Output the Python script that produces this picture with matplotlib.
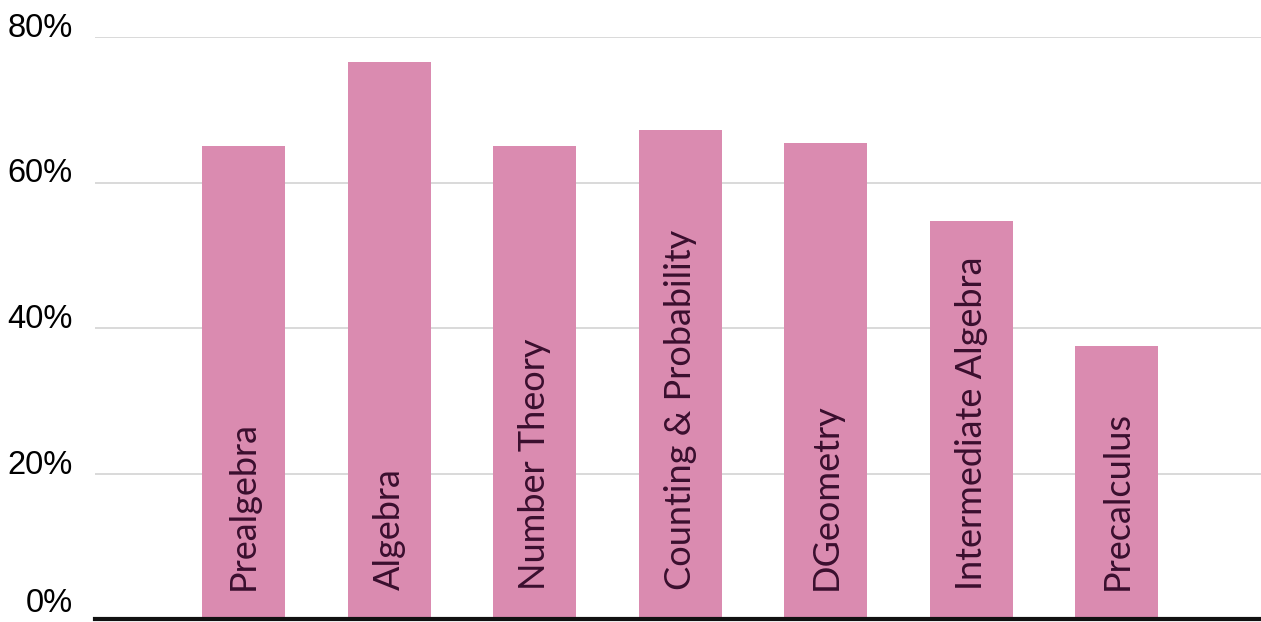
import matplotlib
matplotlib.use("Agg")
import matplotlib.pyplot as plt
from matplotlib.ticker import PercentFormatter
from matplotlib.transforms import offset_copy

categories = ["Prealgebra", "Algebra", "Number Theory", "Counting & Probability",
              "DGeometry", "Intermediate Algebra", "Precalculus"]
scores = [65.0, 76.6, 65.0, 67.2, 65.4, 54.7, 37.5]
y_ticks = [0, 20, 40, 60, 80]

fig = plt.figure(figsize=(12.61, 6.22), dpi=100)
ax = fig.add_axes([95 / 1261, 3 / 622, 1166 / 1261, 582 / 622])

x = list(range(len(categories)))
ax.bar(x, scores, width=0.57, color="#da8bb0", zorder=2)

ax.set_xlim(-1.02, 6.99)
ax.set_ylim(0, 80)
ax.set_yticks(y_ticks)
ax.yaxis.set_major_formatter(PercentFormatter(decimals=0))
ax.grid(axis="y", color="#d3d3d3", linewidth=1.2, zorder=0)
ax.set_xticks([])

for s in ["top", "right", "left"]:
    ax.spines[s].set_visible(False)
ax.spines["bottom"].set_linewidth(3)
ax.spines["bottom"].set_color("#111111")
ax.tick_params(axis="y", length=0, pad=16, labelsize=23.5)
for i, lab in enumerate(ax.get_yticklabels()):
    lab.set_fontfamily("Liberation Sans")
    # bottom label sits at the figure edge, keep its descent inside
    lab.set_verticalalignment("bottom" if i == 0 else "baseline")

# labels inside the bars, rotated
trans = offset_copy(ax.transData, fig=fig, x=0, y=29, units="dots")
for xi, name in zip(x, categories):
    ax.text(xi, 0, name, rotation=90, ha="center", va="bottom",
            fontsize=26, color="#3a0f2e", family="Lato", transform=trans, zorder=3)

fig.savefig("out.png", dpi=100)
